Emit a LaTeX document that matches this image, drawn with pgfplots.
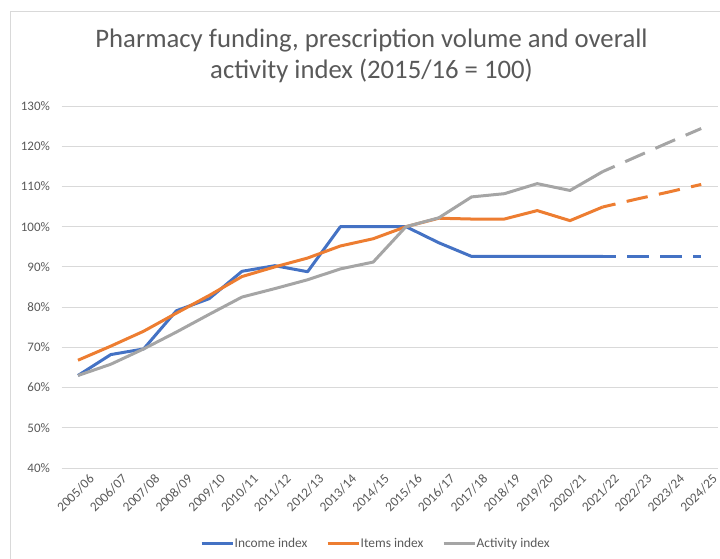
\documentclass[border=0pt]{standalone}
\usepackage{pgfplots}
\pgfplotsset{compat=1.18}
\usepackage{fontspec}
\setmainfont{Carlito}
\definecolor{cblue}{HTML}{4472C4}
\definecolor{corange}{HTML}{ED7D31}
\definecolor{cgray}{HTML}{A5A5A5}
\definecolor{ctext}{HTML}{595959}
\definecolor{cgrid}{HTML}{D9D9D9}
\begin{document}
\begin{tikzpicture}[x=1pt,y=1pt]
\useasboundingbox (0,0) rectangle (720,558);
\draw[cgrid, line width=1pt] (10,-5) -- (10,546) -- (725,546);
\node[anchor=base, text=ctext, font=\fontsize{26.7}{32}\selectfont, inner sep=0pt] at (371.5,510) {Pharmacy funding, prescription volume and overall};
\node[anchor=base, text=ctext, font=\fontsize{26.7}{32}\selectfont, inner sep=0pt] at (371.5,479) {activity index (2015/16 = 100)};
\begin{axis}[
  at={(61.6pt,90pt)}, anchor=south west,
  scale only axis, width=656pt, height=362pt,
  xmin=-0.5, xmax=19.5, ymin=40, ymax=130,
  axis line style={draw=none},
  major tick length=0pt,
  xtick={0,...,19},
  xticklabels={2005/06,2006/07,2007/08,2008/09,2009/10,2010/11,2011/12,2012/13,2013/14,2014/15,2015/16,2016/17,2017/18,2018/19,2019/20,2020/21,2021/22,2022/23,2023/24,2024/25},
  xticklabel style={rotate=45, anchor=north east, inner sep=0pt, xshift=3.5pt, yshift=-11pt, font=\fontsize{13.4}{15}\selectfont, text=ctext},
  ytick={40,50,...,130},
  yticklabel={\pgfmathprintnumber[assume math mode=true]{\tick}\%},
  yticklabel style={anchor=east, inner sep=0pt, xshift=-11.5pt, font=\fontsize{13}{15}\selectfont, text=ctext},
  ymajorgrids, major grid style={cgrid, line width=1pt},
  legend columns=3,
  legend style={at={(0.478,-0.2075)}, anchor=center, draw=none, fill=none, inner sep=0pt,
    nodes={inner sep=0.6pt},
    font=\fontsize{13.4}{15}\selectfont, text=ctext,
    /tikz/every even column/.append style={column sep=18pt}},
  legend image code/.code={\draw[#1] (0pt,0pt) -- (31pt,0pt);},
  every axis plot/.append style={line width=3pt, line join=round},
]
\addplot[cblue] coordinates {(0,63.0) (1,68.2) (2,69.6) (3,79.1) (4,82.1) (5,88.9) (6,90.3) (7,88.8) (8,100) (9,100) (10,100) (11,96.0) (12,92.6) (13,92.6) (14,92.6) (15,92.6) (16,92.6)};
\addlegendentry{Income index}
\addplot[corange] coordinates {(0,66.8) (1,70.3) (2,74.0) (3,78.5) (4,82.9) (5,87.6) (6,90.0) (7,92.2) (8,95.2) (9,97.0) (10,100) (11,102.1) (12,101.9) (13,101.9) (14,104.0) (15,101.5) (16,104.9)};
\addlegendentry{Items index}
\addplot[cgray] coordinates {(0,63.0) (1,65.8) (2,69.6) (3,73.8) (4,78.2) (5,82.5) (6,84.6) (7,86.8) (8,89.5) (9,91.2) (10,100) (11,102.2) (12,107.4) (13,108.2) (14,110.7) (15,109.0) (16,113.7)};
\addlegendentry{Activity index}
\addplot[cblue, forget plot, dash pattern=on 21.5pt off 11.5pt, dash phase=8.5pt] coordinates {(16,92.6) (17,92.6) (18,92.6) (19,92.6)};
\addplot[corange, forget plot, dash pattern=on 21.5pt off 11.5pt, dash phase=8.5pt] coordinates {(16,104.9) (17,106.8) (18,108.6) (19,110.5)};
\addplot[cgray, forget plot, dash pattern=on 21.5pt off 11.5pt, dash phase=8.5pt] coordinates {(16,113.7) (17,117.3) (18,120.9) (19,124.4)};
\end{axis}
\end{tikzpicture}
\end{document}
